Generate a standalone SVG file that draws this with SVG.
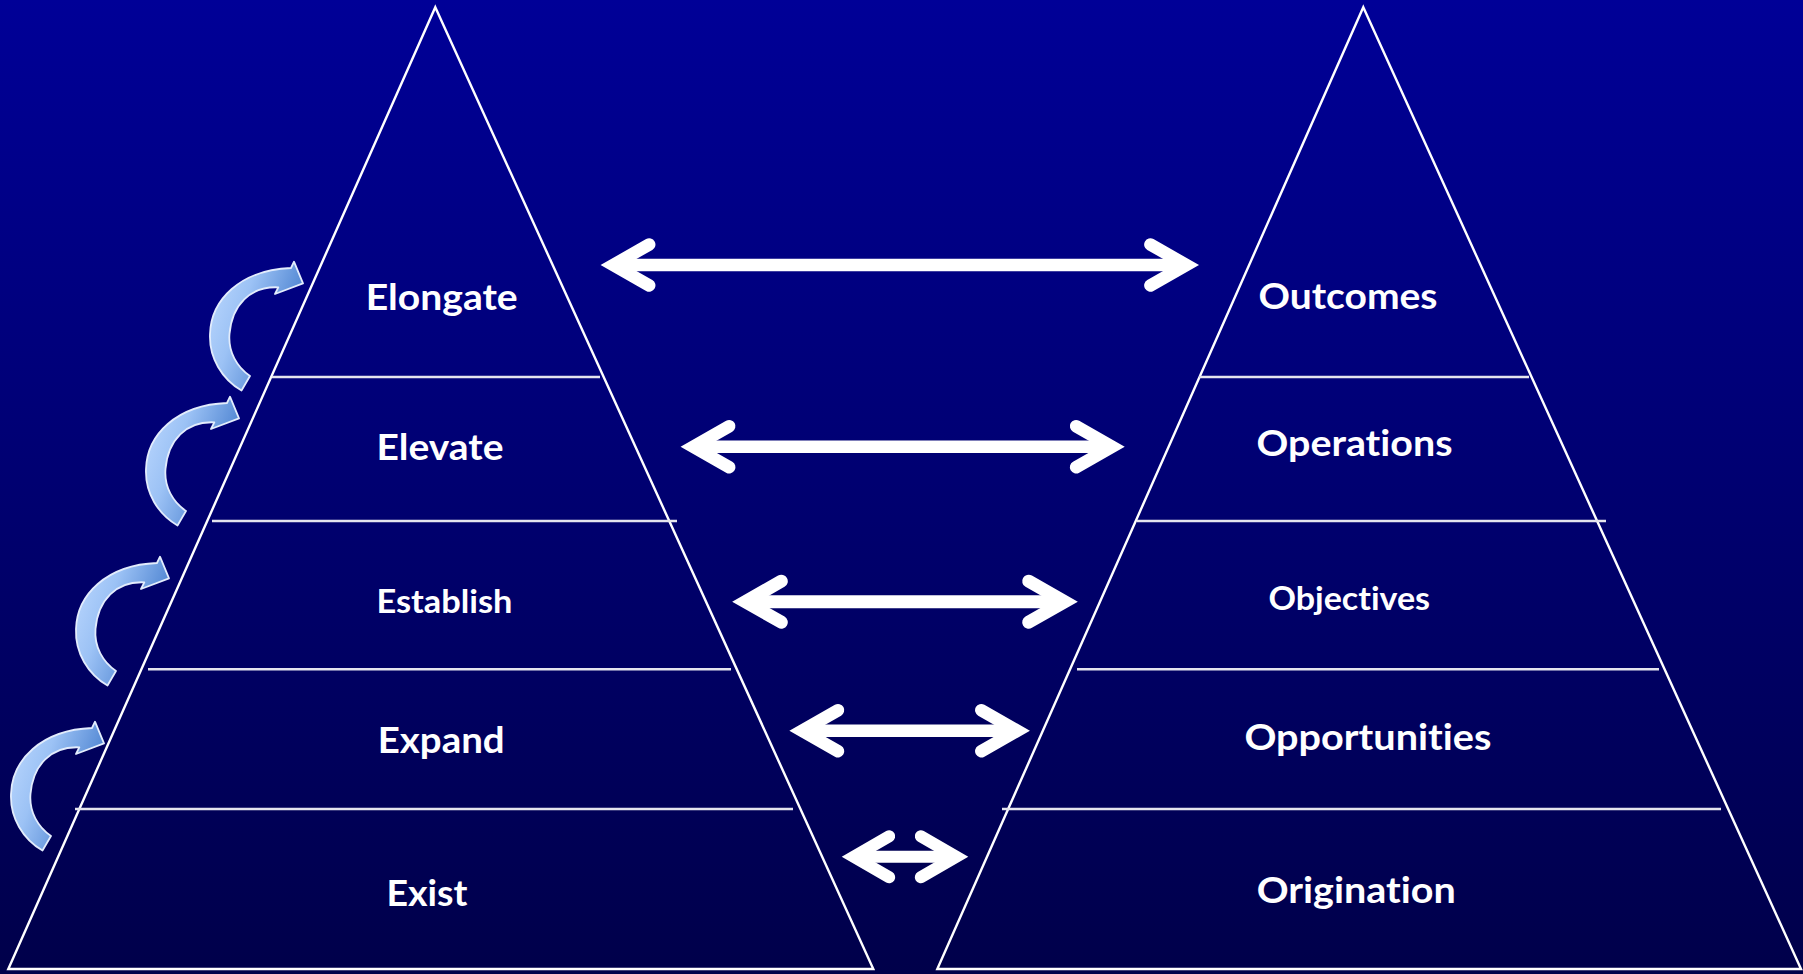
<svg xmlns="http://www.w3.org/2000/svg" xmlns:xlink="http://www.w3.org/1999/xlink" width="1803" height="974" viewBox="0 0 1803 974">
  <defs>
    <linearGradient id="bg" x1="0" y1="0" x2="0" y2="1">
      <stop offset="0" stop-color="#000097"/>
      <stop offset="1" stop-color="#00004a"/>
    </linearGradient>
    <linearGradient id="curl-fill" gradientUnits="objectBoundingBox" x1="0" y1="0.3" x2="1" y2="0.8">
      <stop offset="0" stop-color="#b5d3fc"/>
      <stop offset="0.3" stop-color="#9cc2f5"/>
      <stop offset="1" stop-color="#2c69c2"/>
    </linearGradient>
    <!-- curved step arrow, drawn at the top level and reused below -->
    <path id="curl" d="M 241.5,390.5 C 222,379 209,358 210,334 C 211,300 240,270 291,268 L 294,261.7 L 303,283.3 L 275,294 L 278.3,287.3 C 250,286 232,305 229.5,334 C 228,352 237,367 250,376 Z"/>
    <style>
      .bg { fill: url(#bg); }
      .tri { fill: none; stroke: #ffffff; stroke-width: 2.4; stroke-linejoin: miter; }
      .tier { stroke: #e4e4ee; stroke-width: 2.6; }
      .label { fill: #ffffff; font-family: Lato, "Open Sans", "Liberation Sans", sans-serif; font-weight: 700; font-size: 36px; text-anchor: middle; font-variant-ligatures: none; }
      .label.small { font-size: 31.5px; }
      .shaft { stroke: #ffffff; fill: none; stroke-linecap: butt; }
      .head { stroke: #ffffff; fill: none; stroke-linecap: round; stroke-linejoin: miter; stroke-miterlimit: 6; }
      .curl { fill: url(#curl-fill); stroke: #e2ecfc; stroke-width: 1.8; stroke-linejoin: round; }
    </style>
  </defs>

  <rect class="bg" x="0" y="0" width="1803" height="974"/>

  <!-- left pyramid -->
  <g id="pyramid-left">
    <polygon class="tri" points="435.3,7.3 873.3,969 8.3,969"/>
    <line class="tier" x1="272" y1="377" x2="600" y2="377"/>
    <line class="tier" x1="212" y1="521" x2="677" y2="521"/>
    <line class="tier" x1="148" y1="669.3" x2="731" y2="669.3"/>
    <line class="tier" x1="75" y1="809" x2="793" y2="809"/>
  </g>

  <!-- right pyramid -->
  <g id="pyramid-right">
    <polygon class="tri" points="1363.3,7.3 1801,969 937.3,969"/>
    <line class="tier" x1="1199" y1="377" x2="1529" y2="377"/>
    <line class="tier" x1="1137" y1="521" x2="1606" y2="521"/>
    <line class="tier" x1="1077" y1="669.3" x2="1659" y2="669.3"/>
    <line class="tier" x1="1002" y1="809" x2="1721" y2="809"/>
  </g>

  <!-- left pyramid labels -->
  <g id="elongate"><text class="label" x="441.7" y="309.5" textLength="152" lengthAdjust="spacingAndGlyphs">Elongate</text></g>
  <g id="elevate"><text class="label" x="440" y="460" textLength="127" lengthAdjust="spacingAndGlyphs">Elevate</text></g>
  <g id="establish"><text class="label small" x="444.5" y="612.7" textLength="136" lengthAdjust="spacingAndGlyphs">Establish</text></g>
  <g id="expand"><text class="label" x="441.2" y="753.3" textLength="127" lengthAdjust="spacingAndGlyphs">Expand</text></g>
  <g id="exist"><text class="label" x="427" y="906" textLength="81" lengthAdjust="spacingAndGlyphs">Exist</text></g>

  <!-- right pyramid labels -->
  <g id="outcomes"><text class="label" x="1348" y="309.3" textLength="179" lengthAdjust="spacingAndGlyphs">Outcomes</text></g>
  <g id="operations"><text class="label" x="1354.5" y="456" textLength="196" lengthAdjust="spacingAndGlyphs">Operations</text></g>
  <g id="objectives"><text class="label small" x="1349.3" y="609.5" textLength="161.5" lengthAdjust="spacingAndGlyphs">Objectives</text></g>
  <g id="opportunities"><text class="label" x="1367.9" y="750" textLength="247" lengthAdjust="spacingAndGlyphs">Opportunities</text></g>
  <g id="origination"><text class="label" x="1356.2" y="903.3" textLength="199" lengthAdjust="spacingAndGlyphs">Origination</text></g>

  <!-- curved step arrows climbing the left pyramid -->
  <g id="steps">
    <use xlink:href="#curl" href="#curl" class="curl"/>
    <use xlink:href="#curl" href="#curl" class="curl" transform="translate(-64,135)"/>
    <use xlink:href="#curl" href="#curl" class="curl" transform="translate(-134,295)"/>
    <use xlink:href="#curl" href="#curl" class="curl" transform="translate(-199,460)"/>
  </g>

  <!-- connectors: double-headed arrows between matching tiers -->
  <g id="connectors">
    <g stroke-width="12.5">
      <path class="shaft" d="M 613.2,265 H 1186.4"/>
      <path class="head" d="M 649.2,244.5 L 613.2,265 L 649.2,285.5"/>
      <path class="head" d="M 1150.4,244.5 L 1186.4,265 L 1150.4,285.5"/>
    </g>
    <g stroke-width="12.5">
      <path class="shaft" d="M 693.2,446.7 H 1112.1"/>
      <path class="head" d="M 729.2,426.2 L 693.2,446.7 L 729.2,467.2"/>
      <path class="head" d="M 1076.1,426.2 L 1112.1,446.7 L 1076.1,467.2"/>
    </g>
    <g stroke-width="13">
      <path class="shaft" d="M 745.3,601.7 H 1064.7"/>
      <path class="head" d="M 781.3,581.2 L 745.3,601.7 L 781.3,622.2"/>
      <path class="head" d="M 1028.7,581.2 L 1064.7,601.7 L 1028.7,622.2"/>
    </g>
    <g stroke-width="12.5">
      <path class="shaft" d="M 802,730.7 H 1017.3"/>
      <path class="head" d="M 838,710.2 L 802,730.7 L 838,751.2"/>
      <path class="head" d="M 981.3,710.2 L 1017.3,730.7 L 981.3,751.2"/>
    </g>
    <g stroke-width="12">
      <path class="shaft" d="M 853.7,856.7 H 956.3"/>
      <path class="head" d="M 889.2,836.2 L 853.7,856.7 L 889.2,877.2"/>
      <path class="head" d="M 920.8,836.2 L 956.3,856.7 L 920.8,877.2"/>
    </g>
  </g>
</svg>
